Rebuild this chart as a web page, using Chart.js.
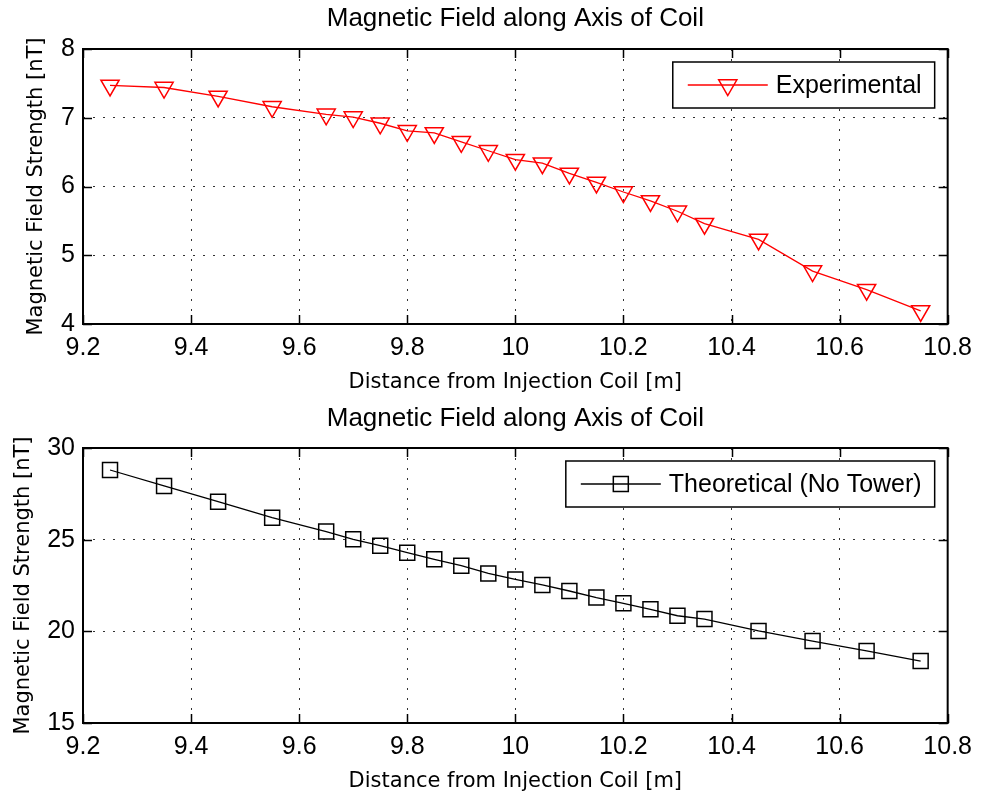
<!DOCTYPE html>
<html>
<head>
<meta charset="utf-8">
<title>Magnetic Field along Axis of Coil</title>
<script src="https://cdn.jsdelivr.net/npm/chart.js@4.4.1/dist/chart.umd.min.js"></script>
<style>
  html, body { margin: 0; padding: 0; background: #fff; overflow: hidden; }
  canvas { display: block; }
</style>
</head>
<body>
<canvas id="topChart" width="981" height="398"></canvas>
<canvas id="bottomChart" width="981" height="398"></canvas>
<script>
// distance from the injection coil [m], shared by both plots
const distances = [9.25, 9.35, 9.45, 9.55, 9.65, 9.70, 9.75, 9.80, 9.85, 9.90, 9.95, 10.00,
    10.05, 10.10, 10.15, 10.20, 10.25, 10.30, 10.35, 10.45, 10.55, 10.65, 10.75];

// field strength [nT]
const experimental = [7.47, 7.44, 7.31, 7.16, 7.05, 7.01, 6.92, 6.81, 6.78, 6.65, 6.52, 6.39,
    6.34, 6.19, 6.06, 5.92, 5.79, 5.64, 5.46, 5.23, 4.77, 4.50, 4.19];
const theoretical = [28.80, 27.93, 27.07, 26.20, 25.44, 25.02, 24.67, 24.29, 23.93, 23.58, 23.16, 22.83,
    22.53, 22.20, 21.84, 21.53, 21.20, 20.85, 20.67, 20.02, 19.47, 18.93, 18.38];

const xTicks = [9.2, 9.4, 9.6, 9.8, 10, 10.2, 10.4, 10.6, 10.8];
const topYTicks = [4, 5, 6, 7, 8];
const bottomYTicks = [15, 20, 25, 30];

const chartTitle = 'Magnetic Field along Axis of Coil';
const xLabel = 'Distance from Injection Coil [m]';
const yLabel = 'Magnetic Field Strength [nT]';

const labelFont = '"Liberation Sans", Arial, sans-serif';
const axisFont = '"DejaVu Sans", Verdana, sans-serif';

Chart.defaults.color = '#000';
Chart.defaults.font.family = labelFont;

function drawMarker(ctx, style, x, y, r) {
    ctx.beginPath();
    if (style === 'triangle') {
        // upside-down triangle
        const dx = r * Math.sin(Math.PI / 3);
        ctx.moveTo(x, y + r);
        ctx.lineTo(x - dx, y - r / 2);
        ctx.lineTo(x + dx, y - r / 2);
        ctx.closePath();
    } else {
        const h = r * Math.SQRT1_2;
        ctx.rect(x - h, y - h, 2 * h, 2 * h);
    }
    ctx.stroke();
}

// box around the axes, inward ticks on all four sides, and the boxed legend
const matlabFrame = {
    id: 'matlabFrame',
    afterDraw(chart) {
        const ctx = chart.ctx;
        const a = chart.chartArea;
        const xs = chart.scales.x;
        const ys = chart.scales.y;
        const tick = 9;

        ctx.save();
        ctx.strokeStyle = '#000';
        ctx.lineWidth = 1.5;
        ctx.beginPath();
        xs.ticks.forEach(t => {
            const px = Math.round(xs.getPixelForValue(t.value)) + 0.5;
            ctx.moveTo(px, a.bottom); ctx.lineTo(px, a.bottom - tick);
            ctx.moveTo(px, a.top); ctx.lineTo(px, a.top + tick);
        });
        ys.ticks.forEach(t => {
            const py = Math.round(ys.getPixelForValue(t.value)) + 0.5;
            ctx.moveTo(a.left, py); ctx.lineTo(a.left + tick, py);
            ctx.moveTo(a.right, py); ctx.lineTo(a.right - tick, py);
        });
        ctx.stroke();

        ctx.lineWidth = 2;
        ctx.strokeRect(a.left, a.top, a.right - a.left, a.bottom - a.top);

        // legend
        const ds = chart.data.datasets[0];
        ctx.font = '25px ' + labelFont;
        const tw = ctx.measureText(ds.label).width;
        const w = 15 + 80 + 8 + tw + 13;
        const h = 46;
        const right = a.right - 13;
        const top = a.top + 13;
        const left = right - w;
        const cy = top + h / 2;
        ctx.fillStyle = '#fff';
        ctx.fillRect(left, top, w, h);
        ctx.lineWidth = 1.5;
        ctx.strokeStyle = '#000';
        ctx.strokeRect(left, top, w, h);

        ctx.strokeStyle = ds.borderColor;
        ctx.lineWidth = ds.borderWidth;
        ctx.beginPath();
        ctx.moveTo(left + 15, cy);
        ctx.lineTo(left + 95, cy);
        ctx.stroke();
        ctx.lineWidth = ds.pointBorderWidth;
        drawMarker(ctx, ds.pointStyle, left + 55, cy, ds.pointRadius);

        ctx.fillStyle = '#000';
        ctx.textBaseline = 'middle';
        ctx.textAlign = 'left';
        ctx.fillText(ds.label, left + 103, cy + 1);
        ctx.restore();
    }
};

function makeChart(id, cfg) {
    return new Chart(document.getElementById(id), {
        type: 'line',
        data: {
            datasets: [{
                label: cfg.label,
                data: distances.map((d, i) => ({ x: d, y: cfg.values[i] })),
                borderColor: cfg.color,
                borderWidth: 1.3,
                pointStyle: cfg.pointStyle,
                pointRotation: cfg.pointStyle === 'triangle' ? 180 : 0,
                pointRadius: cfg.radius,
                pointBorderWidth: 1.5,
                pointBorderColor: cfg.color,
                pointBackgroundColor: 'rgba(0,0,0,0)',
                tension: 0
            }]
        },
        options: {
            responsive: false,
            animation: false,
            events: [],
            layout: { padding: { top: 0, right: 30, bottom: cfg.bottomPad, left: 0 } },
            plugins: {
                legend: { display: false },
                tooltip: { enabled: false },
                title: {
                    display: true,
                    text: chartTitle,
                    fullSize: false,
                    color: '#000',
                    font: { family: labelFont, size: 26, weight: 'normal' },
                    padding: cfg.titlePad
                }
            },
            scales: {
                x: {
                    type: 'linear',
                    min: 9.2,
                    max: 10.8,
                    afterBuildTicks: s => { s.ticks = xTicks.map(v => ({ value: v })); },
                    afterFit: s => { s.height = 71; },
                    ticks: {
                        padding: 9,
                        maxRotation: 0,
                        autoSkip: false,
                        font: { family: labelFont, size: 25 },
                        callback: v => String(v)
                    },
                    grid: { color: '#333', lineWidth: 1, drawTicks: false },
                    border: { display: false, dash: [2, 8] },
                    title: {
                        display: true,
                        text: xLabel,
                        font: { family: axisFont, size: 21 },
                        padding: { top: 0, bottom: 0 }
                    }
                },
                y: {
                    type: 'linear',
                    min: cfg.yTicks[0],
                    max: cfg.yTicks[cfg.yTicks.length - 1],
                    afterBuildTicks: s => { s.ticks = cfg.yTicks.map(v => ({ value: v })); },
                    afterFit: s => { s.width = 83; },
                    ticks: {
                        padding: 8,
                        font: { family: labelFont, size: 25 },
                        callback: v => String(v)
                    },
                    grid: { color: '#333', lineWidth: 1, drawTicks: false },
                    border: { display: false, dash: [2, 8] },
                    title: {
                        display: true,
                        text: yLabel,
                        font: { family: axisFont, size: 21 },
                        padding: { top: cfg.yTitlePad, bottom: 0 }
                    }
                }
            }
        },
        plugins: [matlabFrame]
    });
}

makeChart('topChart', {
    label: 'Experimental',
    values: experimental,
    color: '#ff0000',
    pointStyle: 'triangle',
    radius: 10.5,
    yTicks: topYTicks,
    titlePad: { top: 3.4, bottom: 14.4 },
    yTitlePad: 24,
    bottomPad: 3
});

makeChart('bottomChart', {
    label: 'Theoretical (No Tower)',
    values: theoretical,
    color: '#000000',
    pointStyle: 'rect',
    radius: 10.6,
    yTicks: bottomYTicks,
    titlePad: { top: 5.4, bottom: 13.4 },
    yTitlePad: 11,
    bottomPad: 2
});
</script>
</body>
</html>
